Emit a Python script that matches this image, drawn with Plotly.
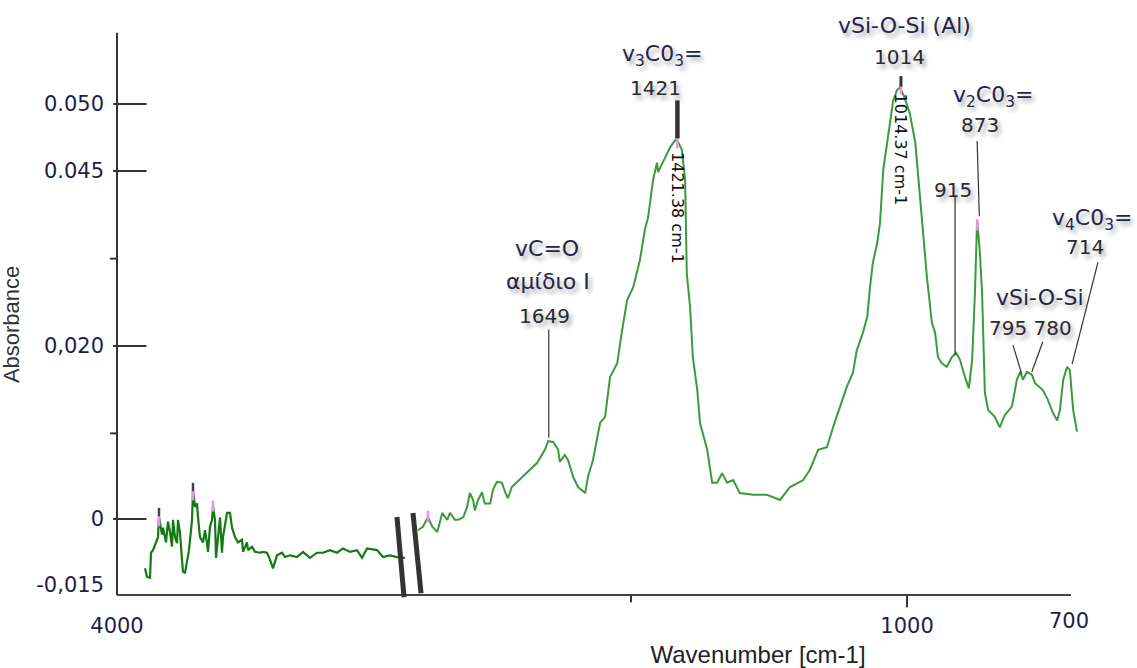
import plotly.graph_objects as go

# ---------------- data (wavenumber in cm-1, absorbance on the plotted linear scale) ----------------
left_wn = [3832, 3820, 3802, 3796, 3784, 3766, 3754, 3748, 3730, 3724,
           3706, 3694, 3682, 3670, 3664, 3652, 3640, 3634, 3622, 3610,
           3604, 3592, 3580, 3568, 3550, 3544, 3532, 3520, 3514, 3502,
           3484, 3472, 3460, 3454, 3442, 3430, 3424, 3412, 3406, 3394,
           3382, 3370, 3364, 3340, 3322, 3310, 3292, 3274, 3250, 3244,
           3220, 3214, 3190, 3172, 3142, 3124, 3100, 3082, 3064, 3040,
           3010, 2992, 2962, 2920, 2884, 2842, 2800, 2764, 2722, 2680,
           2644, 2602, 2560, 2530, 2500, 2440, 2404, 2362, 2320, 2272]
left_abs = [-0.0057, -0.0067, -0.0068, -0.0039, -0.0036, -0.0027, -0.0021, 0.0002, -0.0018, -0.0010,
            -0.0027, -0.0003, -0.0015, -0.0032, -0.0001, -0.0021, -0.0028, -0.0001, -0.0016, -0.0047,
            -0.0061, -0.0062, -0.0051, -0.0036, -0.0001, 0.0034, 0.0014, 0.0018, 0.0002, -0.0021,
            -0.0027, -0.0013, -0.0028, -0.0038, -0.0009, -0.0001, 0.0014, -0.0001, -0.0045, -0.0021,
            0.0002, -0.0039, -0.0021, 0.0007, 0.0007, -0.0010, -0.0021, -0.0027, -0.0024, -0.0038,
            -0.0027, -0.0036, -0.0032, -0.0038, -0.0039, -0.0038, -0.0039, -0.0047, -0.0057, -0.0042,
            -0.0039, -0.0044, -0.0042, -0.0044, -0.0038, -0.0045, -0.0039, -0.0039, -0.0036, -0.0039,
            -0.0034, -0.0038, -0.0036, -0.0045, -0.0034, -0.0036, -0.0044, -0.0042, -0.0044, -0.0045]

right_wn = [1886, 1877, 1868, 1860, 1851, 1842, 1833, 1828, 1819, 1813,
            1804, 1797, 1792, 1786, 1783, 1777, 1770, 1765, 1755, 1750,
            1743, 1734, 1728, 1723, 1716, 1696, 1670, 1656, 1650, 1641,
            1632, 1629, 1620, 1614, 1605, 1596, 1583, 1578, 1569, 1556,
            1547, 1538, 1525, 1516, 1507, 1496, 1484, 1475, 1469, 1460,
            1453, 1451, 1438, 1429, 1420, 1415, 1408, 1402, 1399, 1393,
            1388, 1380, 1375, 1362, 1353, 1344, 1335, 1326, 1315, 1303,
            1279, 1254, 1230, 1212, 1188, 1176, 1161, 1145, 1134, 1121,
            1109, 1098, 1091, 1080, 1072, 1067, 1062, 1054, 1049, 1043,
            1036, 1031, 1025, 1018, 1013, 1005, 995, 985, 978, 971,
            964, 955, 949, 944, 937, 928, 919, 911, 904, 895,
            888, 882, 877, 873, 868, 864, 862, 859, 853, 841,
            832, 823, 810, 801, 795, 790, 783, 774, 768, 754,
            745, 736, 728, 723, 717, 710, 705, 699, 692]
right_abs = [-0.0013, -0.0009, 0.0002, -0.0009, -0.0015, 0.0007, -0.0001, 0.0007, -0.0001, -0.0001,
             0.0002, 0.0014, 0.0030, 0.0022, 0.0010, 0.0022, 0.0031, 0.0018, 0.0018, 0.0034,
             0.0043, 0.0042, 0.0031, 0.0024, 0.0037, 0.0049, 0.0065, 0.0080, 0.0090, 0.0089,
             0.0080, 0.0066, 0.0074, 0.0068, 0.0049, 0.0037, 0.0030, 0.0049, 0.0068, 0.0111,
             0.0118, 0.0164, 0.0180, 0.0219, 0.0253, 0.0268, 0.0299, 0.0334, 0.0349, 0.0392,
             0.0412, 0.0401, 0.0419, 0.0430, 0.0438, 0.0436, 0.0427, 0.0392, 0.0284, 0.0245,
             0.0187, 0.0149, 0.0111, 0.0080, 0.0042, 0.0042, 0.0053, 0.0042, 0.0045, 0.0030,
             0.0028, 0.0028, 0.0022, 0.0037, 0.0045, 0.0057, 0.0080, 0.0083, 0.0106, 0.0130,
             0.0153, 0.0169, 0.0195, 0.0215, 0.0234, 0.0268, 0.0296, 0.0319, 0.0342, 0.0404,
             0.0435, 0.0461, 0.0484, 0.0496, 0.0499, 0.0488, 0.0469, 0.0435, 0.0380, 0.0326,
             0.0280, 0.0227, 0.0215, 0.0187, 0.0180, 0.0176, 0.0187, 0.0192, 0.0184, 0.0164,
             0.0151, 0.0184, 0.0261, 0.0346, 0.0308, 0.0261, 0.0204, 0.0146, 0.0126, 0.0118,
             0.0106, 0.0120, 0.0130, 0.0161, 0.0170, 0.0161, 0.0170, 0.0167, 0.0157, 0.0149,
             0.0138, 0.0123, 0.0114, 0.0126, 0.0161, 0.0176, 0.0172, 0.0126, 0.0101]

# peak-pick markers (pink) and their dark tips
mark_left_wn = [3748, 3544, 3424]
mark_left_abs = [-0.0002, 0.0028, 0.0015]
tip_left_wn = [3748, 3544]
tip_left_abs = [0.0008, 0.0037]
mark_right_wn = [1868, 1416, 1011, 873]
mark_right_abs = [0.0003, 0.0435, 0.0497, 0.0340]

# y-axis tick positions and their (original, inconsistent) labels
ytick_vals = [0.04798, 0.04023, 0.02, 0.0, -0.00763]
ytick_text = ["0.050", "0.045", "0,020", "0", "-0,015"]
ymajor_ticks = [0.04798, 0.04023, 0.02, 0.0]
yminor_ticks = [0.03010, 0.00990]

# peak labels: (text, wavenumber, absorbance-position, extra vertical shift in px)
peak_labels = [
    ("vC=O", 1652, 0.03133, 0),
    ("αμίδιο I", 1650, 0.02751, 0),
    ("1649", 1656, 0.02347, 0),
    ("v<sub>3</sub>C0<sub>3</sub>=", 1444, 0.05364, 0),
    ("1421", 1455, 0.04983, 0),
    ("vSi-O-Si (Al)", 1004, 0.05500, 18),
    ("1014", 1013, 0.05341, 0),
    ("v<sub>2</sub>C0<sub>3</sub>=", 844, 0.04890, 0),
    ("873", 868, 0.04555, 0),
    ("915", 917, 0.03803, 0),
    ("v<sub>4</sub>C0<sub>3</sub>=", 665, 0.03460, 0),
    ("714", 678, 0.03150, 0),
    ("vSi-O-Si", 759, 0.02555, 0),
    ("795 780", 777, 0.02208, 0),
]
# leader lines: (wn0, abs0, wn1, abs1, width)
leaders = [
    (1649, 0.0094, 1649, 0.0219, 1.2),
    (1416, 0.0440, 1416, 0.0484, 4.5),
    (1011, 0.0500, 1011, 0.0512, 3),
    (913, 0.0190, 913, 0.0374, 1.2),
    (869, 0.0350, 873, 0.0437, 1.2),
    (792, 0.0167, 808, 0.0201, 1.2),
    (774, 0.0170, 754, 0.0205, 1.2),
    (701, 0.0179, 654, 0.0297, 1.2),
]
rot_labels = [("1421.38 cm-1", 1415, 0.03595), ("1014.37 cm-1", 1012, 0.04266)]

# ---------------- figure ----------------
fig = go.Figure()
fig.add_trace(go.Scatter(x=left_wn, y=left_abs, mode="lines", xaxis="x", yaxis="y",
                         line=dict(color="#137a13", width=2.2), showlegend=False, hoverinfo="skip"))
fig.add_trace(go.Scatter(x=right_wn, y=right_abs, mode="lines", xaxis="x2", yaxis="y",
                         line=dict(color="#3b9b3b", width=2), showlegend=False, hoverinfo="skip"))
fig.add_trace(go.Scatter(x=mark_left_wn, y=mark_left_abs, mode="markers", xaxis="x", yaxis="y",
                         marker=dict(symbol="line-ns", size=8, line=dict(color="#f08cf0", width=2.5)),
                         showlegend=False, hoverinfo="skip"))
fig.add_trace(go.Scatter(x=tip_left_wn, y=tip_left_abs, mode="markers", xaxis="x", yaxis="y",
                         marker=dict(symbol="line-ns", size=6, line=dict(color="#444444", width=2.5)),
                         showlegend=False, hoverinfo="skip"))
fig.add_trace(go.Scatter(x=mark_right_wn, y=mark_right_abs, mode="markers", xaxis="x2", yaxis="y",
                         marker=dict(symbol="line-ns", size=8, line=dict(color="#f08cf0", width=2.5)),
                         showlegend=False, hoverinfo="skip"))

tick_font = dict(family="DejaVu Sans", size=21, color="#1e1e4a")

shapes = []
# axis lines
shapes.append(dict(type="line", xref="paper", yref="paper", x0=0, x1=(1071 - 117) / 983, y0=0, y1=0,
                   line=dict(color="#444444", width=2)))
shapes.append(dict(type="line", xref="paper", yref="paper", x0=0, x1=0, y0=0, y1=1.004,
                   line=dict(color="#333333", width=2)))
# y ticks
for v in ymajor_ticks:
    shapes.append(dict(type="line", xref="paper", yref="y", x0=-0.004, x1=0.030, y0=v, y1=v,
                       line=dict(color="#333333", width=2)))
for v in yminor_ticks:
    shapes.append(dict(type="line", xref="paper", yref="y", x0=-0.007, x1=0.001, y0=v, y1=v,
                       line=dict(color="#333333", width=2)))
# x ticks
shapes.append(dict(type="line", xref="x2", yref="paper", x0=1500, x1=1500, y0=0, y1=-0.013,
                   line=dict(color="#333333", width=2)))
shapes.append(dict(type="line", xref="x2", yref="paper", x0=1000, x1=1000, y0=0, y1=-0.022,
                   line=dict(color="#333333", width=2)))
# axis break marks
for (x0, y0, x1, y1) in [(0.2848, 0.1393, 0.2920, -0.004), (0.3011, 0.1464, 0.3093, 0.003)]:
    shapes.append(dict(type="line", xref="paper", yref="paper", x0=x0, y0=y0, x1=x1, y1=y1,
                       line=dict(color="#333333", width=5)))
# leader lines
for (a0, b0, a1, b1, w) in leaders:
    shapes.append(dict(type="line", xref="x2", yref="y", x0=a0, y0=b0, x1=a1, y1=b1,
                       line=dict(color="#333333", width=w)))

annotations = []
shadow = "3px 4px 4px rgba(0,0,0,0.35)"
for (t, xw, ya, ys) in peak_labels:
    big = not t[0].isdigit()
    annotations.append(dict(text=t, x=xw, y=ya, xref="x2", yref="y", showarrow=False, yshift=ys,
                            font=dict(family="DejaVu Sans", size=22 if big else 20,
                                      color="#25254a" if big else "#2a2a30", shadow=shadow)))
for (t, xw, ya) in rot_labels:
    annotations.append(dict(text=t, x=xw, y=ya, xref="x2", yref="y", showarrow=False, textangle=90,
                            font=dict(family="DejaVu Sans", size=16, color="#111111")))
annotations.append(dict(text="700", x=700, y=(595 - 621) / 560, xref="x2", yref="paper",
                        yanchor="middle", showarrow=False, xshift=-4, font=tick_font))
annotations.append(dict(text="Absorbance", x=-0.0956, y=0.482, xref="paper", yref="paper",
                        xanchor="center", yanchor="middle", xshift=-12,
                        showarrow=False, textangle=-90,
                        font=dict(family="Liberation Sans", size=22, color="#333333")))

fig.update_layout(
    width=1137, height=668,
    margin=dict(l=117, r=37, t=35, b=73),
    paper_bgcolor="white", plot_bgcolor="white",
    showlegend=False,
    xaxis=dict(domain=[0, 0.2940], range=[4000, 2266], showgrid=False, zeroline=False, showline=False,
               tickvals=[4000], ticktext=["4000"], ticks="", tickfont=tick_font,
               ticklabelstandoff=16, anchor="y", automargin=False),
    xaxis2=dict(domain=[0.3042, 1], range=[1889.5, 650.4], showgrid=False, zeroline=False, showline=False,
                tickvals=[1000], ticktext=["1000"], ticks="", tickfont=tick_font,
                ticklabelstandoff=16, anchor="y", automargin=False,
                title=dict(text="Wavenumber [cm-1]", standoff=9,
                           font=dict(family="Liberation Sans", size=24, color="#222222"))),
    yaxis=dict(range=[-0.0087861, 0.0559538], showgrid=False, zeroline=False, showline=False,
               tickvals=ytick_vals, ticktext=ytick_text, ticks="", tickfont=tick_font,
               ticklabelstandoff=12, automargin=False),
    shapes=shapes,
    annotations=annotations,
)

fig.write_html("out.html")
